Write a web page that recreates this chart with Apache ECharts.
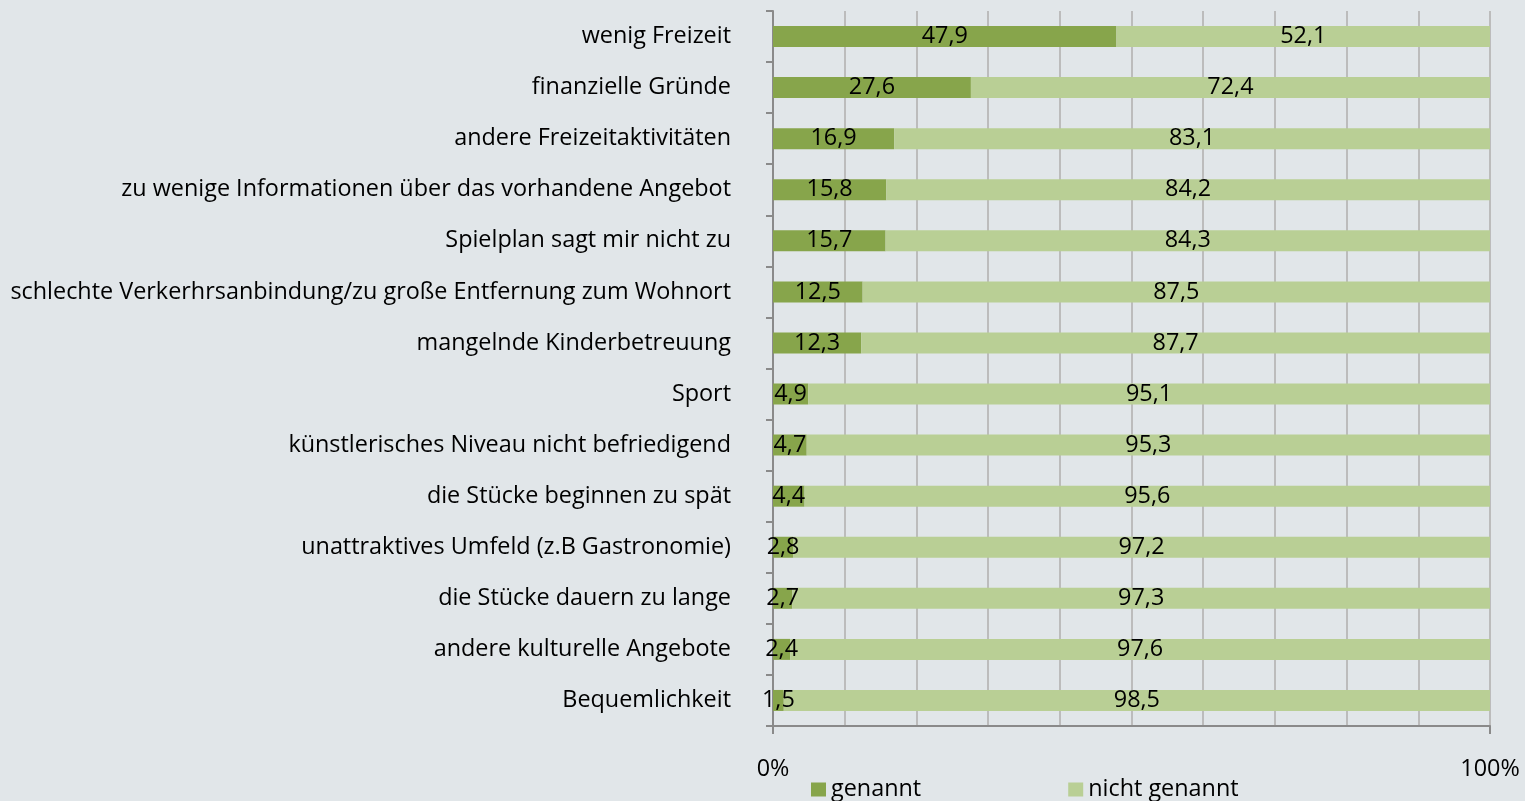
<!DOCTYPE html>
<html>
<head>
<meta charset="utf-8">
<script src="https://cdn.jsdelivr.net/npm/echarts@6/dist/echarts.min.js"></script>
<style>
  html, body { margin: 0; padding: 0; background: #e1e6e9; }
  #main { width: 1525px; height: 801px; }
</style>
</head>
<body>
<div id="main"></div>
<script>
// Gründe (von oben nach unten)
var categories = [
  'wenig Freizeit',
  'finanzielle Gründe',
  'andere Freizeitaktivitäten',
  'zu wenige Informationen über das vorhandene Angebot',
  'Spielplan sagt mir nicht zu',
  'schlechte Verkerhrsanbindung/zu große Entfernung zum Wohnort',
  'mangelnde Kinderbetreuung',
  'Sport',
  'künstlerisches Niveau nicht befriedigend',
  'die Stücke beginnen zu spät',
  'unattraktives Umfeld (z.B Gastronomie)',
  'die Stücke dauern zu lange',
  'andere kulturelle Angebote',
  'Bequemlichkeit'
];
var genannt = [47.9, 27.6, 16.9, 15.8, 15.7, 12.5, 12.3, 4.9, 4.7, 4.4, 2.8, 2.7, 2.4, 1.5];
var nichtGenannt = [52.1, 72.4, 83.1, 84.2, 84.3, 87.5, 87.7, 95.1, 95.3, 95.6, 97.2, 97.3, 97.6, 98.5];
var xTickLabels = { 0: '0%', 100: '100%' };

var FONT = 'Open Sans';
var FS = 23.4;
var chart = echarts.init(document.getElementById('main'));

function fmt(p) { return String(p.value).replace('.', ','); }

var option = {
  backgroundColor: '#e1e6e9',
  animation: false,
  textStyle: { fontFamily: FONT, color: '#000' },
  grid: { left: 773, right: 35, top: 11, bottom: 75, containLabel: false },
  legend: {
    bottom: -5,
    left: 806,
    itemWidth: 15,
    itemHeight: 14,
    itemGap: 147,
    icon: 'rect',
    textStyle: { fontFamily: FONT, fontSize: FS, color: '#000' },
    data: ['genannt', 'nicht genannt']
  },
  xAxis: [
    {
      type: 'value',
      min: 0,
      max: 100,
      interval: 10,
      axisLine: { show: true, lineStyle: { color: '#8a8a8a', width: 2 } },
      axisTick: { show: false },
      splitLine: { show: true, lineStyle: { color: '#bcbcbc', width: 2 } },
      axisLabel: {
        margin: 32,
        fontFamily: FONT,
        fontSize: FS,
        color: '#000',
        formatter: function (v) { return xTickLabels[v] || ''; }
      }
    },
    {
      // nur Striche bei 0% und 100%
      type: 'value',
      position: 'bottom',
      min: 0,
      max: 100,
      interval: 100,
      axisLine: { show: false },
      axisTick: { show: true, length: 8, inside: false, lineStyle: { color: '#8a8a8a', width: 2 } },
      splitLine: { show: false },
      axisLabel: { show: false }
    }
  ],
  yAxis: {
    type: 'category',
    inverse: true,
    data: categories,
    axisLine: { show: true, lineStyle: { color: '#8a8a8a', width: 2 } },
    axisTick: { show: true, length: 7, lineStyle: { color: '#8a8a8a', width: 2 } },
    axisLabel: { margin: 42, fontFamily: FONT, fontSize: FS, color: '#000' }
  },
  series: [
    {
      name: 'genannt',
      type: 'bar',
      stack: 'total',
      barWidth: 21,
      itemStyle: { color: '#87a54b' },
      label: { show: true, position: 'inside', color: '#000', fontSize: FS, fontFamily: FONT, formatter: fmt },
      data: genannt
    },
    {
      name: 'nicht genannt',
      type: 'bar',
      stack: 'total',
      barWidth: 21,
      itemStyle: { color: '#b9cf95' },
      label: { show: true, position: 'inside', color: '#000', fontSize: FS, fontFamily: FONT, formatter: fmt },
      data: nichtGenannt
    }
  ]
};
chart.setOption(option);
</script>
</body>
</html>
